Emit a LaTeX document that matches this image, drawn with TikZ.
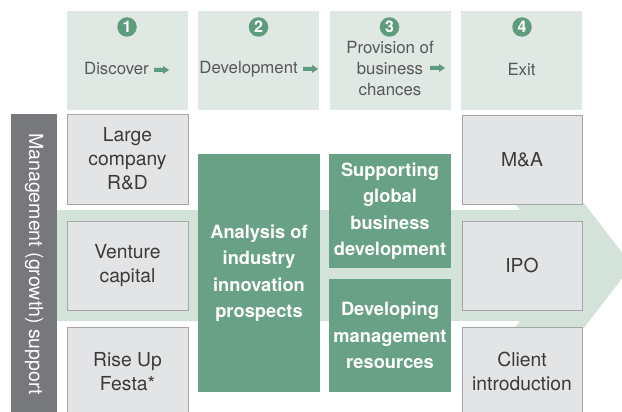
\documentclass[tikz,border=0pt]{standalone}
\usepackage{fontspec}
\setmainfont{TeX Gyre Heros}
\definecolor{hdr}{HTML}{DFE8E2}
\definecolor{bandc}{HTML}{D4E3DA}
\definecolor{gbox}{HTML}{68A185}
\definecolor{gnum}{HTML}{5F9B7D}
\definecolor{graybox}{HTML}{E3E4E6}
\definecolor{grayline}{HTML}{A5A6A8}
\definecolor{barc}{HTML}{77787B}
\definecolor{txt}{HTML}{3A3A3A}
\definecolor{htxt}{HTML}{585858}
\begin{document}
\begin{tikzpicture}[x=1pt,y=-1pt,
  hdrbox/.style={fill=hdr, draw=none, minimum width=121pt, minimum height=99pt, inner sep=0pt},
  numc/.style={circle, fill=gnum, text=white, font=\bfseries\fontsize{16}{16}\selectfont, minimum size=19.5pt, inner sep=0pt},
  hdrtxt/.style={text=htxt, font=\fontsize{16.8}{21}\selectfont, align=center, inner sep=0pt},
  graynode/.style={fill=graybox, draw=grayline, line width=0.8pt, text=txt, font=\fontsize{19.3}{24}\selectfont, align=center, inner sep=0pt},
  greennode/.style={fill=gbox, draw=none, text=white, font=\bfseries\fontsize{18.3}{26.5}\selectfont, align=center, inner sep=0pt},
  garr/.pic={\fill[gnum] (0,-2) -- (9,-2) -- (9,-4) -- (15,0) -- (9,4) -- (9,2) -- (0,2) -- cycle;}
]
\useasboundingbox (0,0) rectangle (622,412);
\clip (0,0) rectangle (622,412);

% header boxes
\node[hdrbox] (h1) at (127.5,60.5) {};
\node[hdrbox] (h2) at (258.5,60.5) {};
\node[hdrbox] (h3) at (390.5,60.5) {};
\node[hdrbox] (h4) at (521.5,60.5) {};
\node[numc] (n1) at (127,27) {1};
\node[numc] (n2) at (258.5,27) {2};
\node[numc] (n3) at (389.5,27) {3};
\node[numc] (n4) at (522,27) {4};
\node[hdrtxt, anchor=east] (t1) at (149,69) {Discover};
\node[hdrtxt, anchor=east] (t2) at (298,69) {Development};
\node[hdrtxt] (t3) at (390,68) {Provision of\\business\\chances};
\node[hdrtxt] (t4) at (521.5,69) {Exit};
\pic at (154,70) {garr};
\pic at (303,69) {garr};
\pic at (430,68) {garr};

% band with chevron head
\fill[bandc] (57,210) -- (520,210) -- (474,150) -- (543,150) -- (632,265.5)
  -- (543,381) -- (474,381) -- (520,321) -- (57,321) -- cycle;

% left bar
\fill[barc] (11,114) rectangle (57,420);
\node[text=white, font=\fontsize{19.5}{20}\selectfont, rotate=-90, inner sep=0pt] (bar) at (34,264) {Management (growth) support};

% left boxes
\node[graynode, minimum width=121pt, minimum height=90pt] (lc) at (127.5,159) {Large\\company\\R\&D};
\node[graynode, minimum width=121pt, minimum height=89pt] (vc) at (127.5,265.5) {Venture\\capital};
\node[graynode, minimum width=121pt, minimum height=89pt] (ru) at (127.5,371.5) {Rise Up\\Festa*};

% green boxes
\node[greennode, minimum width=122pt, minimum height=238pt] (an) at (259,273) {Analysis of\\industry\\innovation\\prospects};
\node[greennode, minimum width=122pt, minimum height=114pt] (sg) at (390,211) {Supporting\\global\\business\\development};
\node[greennode, minimum width=122pt, minimum height=113pt] (dm) at (390,335.5) {Developing\\management\\resources};

% right boxes
\node[graynode, minimum width=120pt, minimum height=89pt] (ma) at (522,159.5) {M\&A};
\node[graynode, minimum width=120pt, minimum height=89pt] (ipo) at (522,265.5) {IPO};
\node[graynode, minimum width=120pt, minimum height=89pt] (ci) at (522,371.5) {Client\\introduction};
\end{tikzpicture}
\end{document}
